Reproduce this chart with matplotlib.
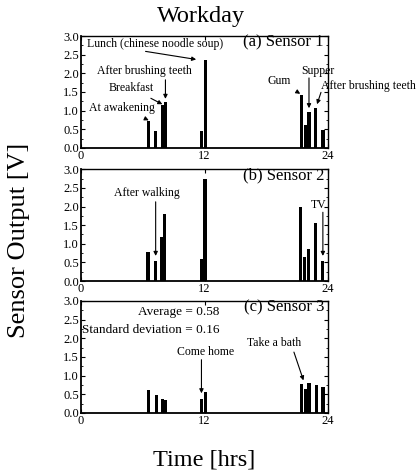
import matplotlib
matplotlib.use("Agg")
import matplotlib.pyplot as plt
from matplotlib.ticker import MultipleLocator

plt.rcParams['font.family'] = ['Liberation Serif', 'DejaVu Serif']

# hours of each measurement and sensor outputs [V]
hours_a = [6.58, 7.26, 7.9, 8.2, 11.7, 12.1, 21.4, 21.8, 22.15, 22.8, 23.5]
sensor1 = [0.72, 0.45, 1.15, 1.22, 0.45, 2.35, 1.43, 0.62, 0.97, 1.08, 0.48]
hours_b = [6.5, 7.2, 7.85, 8.1, 11.7, 12.05, 21.35, 21.7, 22.1, 22.8, 23.45]
sensor2 = [0.78, 0.55, 1.17, 1.8, 0.58, 2.73, 2.0, 0.65, 0.87, 1.57, 0.53]
hours_c = [6.55, 7.3, 7.9, 8.2, 11.7, 12.1, 21.4, 21.8, 22.15, 22.85, 23.5]
sensor3 = [0.6, 0.48, 0.38, 0.35, 0.38, 0.55, 0.77, 0.63, 0.8, 0.74, 0.7]

xticks = [0, 12, 24]
yticks = [0.0, 0.5, 1.0, 1.5, 2.0, 2.5, 3.0]

fig = plt.figure(figsize=(4.2, 4.74), dpi=100)

left, width, height = 0.193, 0.588, 0.236
bottoms = [0.688, 0.407, 0.129]
panels = [(hours_a, sensor1, "(a) Sensor 1"),
          (hours_b, sensor2, "(b) Sensor 2"),
          (hours_c, sensor3, "(c) Sensor 3")]

axes = []
for bottom, (hrs, vals, label) in zip(bottoms, panels):
    ax = fig.add_axes([left, bottom, width, height])
    ax.bar(hrs, vals, width=0.32, color='black', align='center')
    ax.set_xlim(0, 24)
    ax.set_ylim(0, 3.0)
    ax.set_xticks(xticks)
    ax.set_yticks(yticks)
    ax.set_yticklabels([f"{v:.1f}" for v in yticks])
    ax.yaxis.set_minor_locator(MultipleLocator(0.25))
    ax.tick_params(axis='both', which='both', direction='in', labelsize=9,
                   right=True, top=True, pad=1.5)
    ax.tick_params(which='major', length=3)
    ax.tick_params(which='minor', length=1.5)
    for sp in ax.spines.values():
        sp.set_linewidth(1.0)
    ax.spines['left'].set_linewidth(1.3)
    ax.spines['bottom'].set_linewidth(1.3)
    ax.text(23.6, 2.84, label, ha='right', va='center', fontsize=12)
    axes.append(ax)

ax1, ax2, ax3 = axes
fs = 8.5
arr = dict(arrowstyle='-|>', color='black', lw=0.8, mutation_scale=6)

# panel (a)
ax1.annotate("At awakening", xy=(6.58, 0.74), xytext=(4.0, 1.07),
             ha='center', va='center', fontsize=fs,
             arrowprops=dict(arr, shrinkA=3, shrinkB=0))
ax1.annotate("Breakfast", xy=(7.9, 1.17), xytext=(4.9, 1.6),
             ha='center', va='center', fontsize=fs,
             arrowprops=dict(arr, shrinkA=2, shrinkB=0))
ax1.annotate("", xy=(8.2, 1.24), xytext=(8.2, 1.9), arrowprops=arr)
ax1.text(6.2, 2.06, "After brushing teeth", ha='center', va='center', fontsize=fs)
ax1.annotate("", xy=(11.45, 2.36), xytext=(6.0, 2.6), arrowprops=arr)
ax1.text(7.16, 2.79, "Lunch (chinese noodle soup)", ha='center', va='center', fontsize=fs)
ax1.annotate("Gum", xy=(21.3, 1.45), xytext=(19.3, 1.8),
             ha='center', va='center', fontsize=fs,
             arrowprops=dict(arr, shrinkA=3, shrinkB=0))
ax1.annotate("", xy=(22.15, 0.99), xytext=(22.15, 1.95), arrowprops=arr)
ax1.text(23.0, 2.07, "Supper", ha='center', va='center', fontsize=fs)
ax1.annotate("", xy=(22.85, 1.1), xytext=(23.4, 1.56), arrowprops=arr)
ax1.text(23.3, 1.66, "After brushing teeth", ha='left', va='center',
         fontsize=fs, clip_on=False)

# panel (b)
ax2.annotate("", xy=(7.25, 0.6), xytext=(7.25, 2.2), arrowprops=arr)
ax2.text(6.4, 2.35, "After walking", ha='center', va='center', fontsize=fs)
ax2.annotate("", xy=(23.5, 0.6), xytext=(23.5, 1.92), arrowprops=arr)
ax2.text(23.05, 2.04, "TV", ha='center', va='center', fontsize=fs)

# panel (c)
ax3.text(9.46, 2.7, "Average = 0.58", ha='center', va='center', fontsize=9.5)
ax3.text(6.8, 2.22, "Standard deviation = 0.16", ha='center', va='center', fontsize=9.5)
ax3.annotate("", xy=(11.7, 0.45), xytext=(11.7, 1.5), arrowprops=arr)
ax3.text(12.1, 1.64, "Come home", ha='center', va='center', fontsize=fs)
ax3.annotate("", xy=(21.7, 0.8), xytext=(20.6, 1.7), arrowprops=arr)
ax3.text(18.8, 1.87, "Take a bath", ha='center', va='center', fontsize=fs)

fig.text(0.478, 0.966, "Workday", ha='center', va='center', fontsize=17.5)
fig.text(0.045, 0.493, "Sensor Output [V]", ha='center', va='center',
         rotation=90, fontsize=19)
fig.text(0.486, 0.03, "Time [hrs]", ha='center', va='center', fontsize=17.5)

fig.savefig("out.png", dpi=100)
